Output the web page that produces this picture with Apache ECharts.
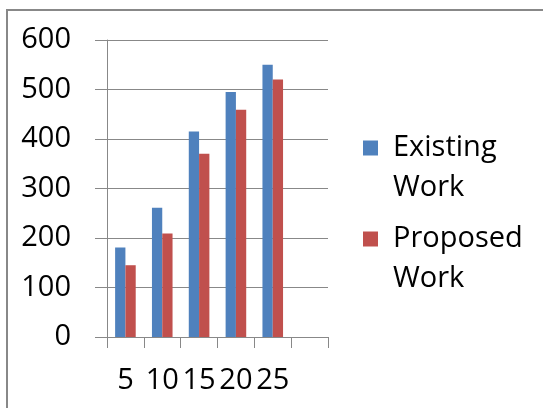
<!DOCTYPE html>
<html>
<head>
<meta charset="utf-8">
<script src="https://cdn.jsdelivr.net/npm/echarts@6/dist/echarts.min.js"></script>
<style>
  html, body { margin: 0; padding: 0; background: #fff; }
  #chart { width: 543px; height: 408px; }
</style>
</head>
<body>
<div id="chart"></div>
<script>
// values
var categories = ['5', '10', '15', '20', '25', ''];
var existingWork = [181, 261, 415, 495, 550];
var proposedWork = [145, 209, 370, 459, 520];
var yTicks = [0, 100, 200, 300, 400, 500, 600];

var FONT = '"Open Sans", sans-serif';
var GRAY = '#888888';

var chart = echarts.init(document.getElementById('chart'));

chart.setOption({
    animation: false,
    backgroundColor: '#fff',
    graphic: [
        {
            // outer frame, runs off the right and bottom edges
            type: 'rect',
            shape: { x: 7, y: 10, width: 700, height: 600 },
            style: { fill: 'none', stroke: GRAY, lineWidth: 2 },
            silent: true
        }
    ],
    grid: { left: 107, right: 215, top: 40, bottom: 71 },
    legend: {
        orient: 'vertical',
        left: 363,
        top: 88,
        padding: 0,
        itemWidth: 15,
        itemHeight: 15,
        itemGap: -29,
        icon: 'rect',
        // empty first line so the swatch sits beside the first word
        formatter: function (name) {
            return '\n' + name.replace(' ', '\n');
        },
        textStyle: {
            fontFamily: FONT,
            fontSize: 29,
            lineHeight: 40,
            color: '#000',
            padding: [0, 0, 0, 10]
        },
        data: ['Existing Work', 'Proposed Work']
    },
    xAxis: {
        type: 'category',
        data: categories,
        axisLine: { lineStyle: { color: GRAY, width: 1 } },
        axisTick: { show: true, length: 11, lineStyle: { color: GRAY } },
        axisLabel: {
            interval: 0,
            margin: 29,
            fontFamily: FONT,
            fontSize: 29,
            color: '#000'
        }
    },
    yAxis: {
        type: 'value',
        min: yTicks[0],
        max: yTicks[yTicks.length - 1],
        interval: 100,
        axisLine: { show: true, lineStyle: { color: GRAY, width: 1 } },
        axisTick: { show: true, length: 12, lineStyle: { color: GRAY } },
        splitLine: { lineStyle: { color: GRAY, width: 1 } },
        axisLabel: {
            margin: 36,
            fontFamily: FONT,
            fontSize: 29,
            color: '#000'
        }
    },
    series: [
        {
            name: 'Existing Work',
            type: 'bar',
            data: existingWork,
            barWidth: 10.3,
            barGap: '0%',
            itemStyle: { color: '#4F81BD' }
        },
        {
            name: 'Proposed Work',
            type: 'bar',
            data: proposedWork,
            barWidth: 10.3,
            barGap: '0%',
            itemStyle: { color: '#C0504D' }
        }
    ]
});
</script>
</body>
</html>
